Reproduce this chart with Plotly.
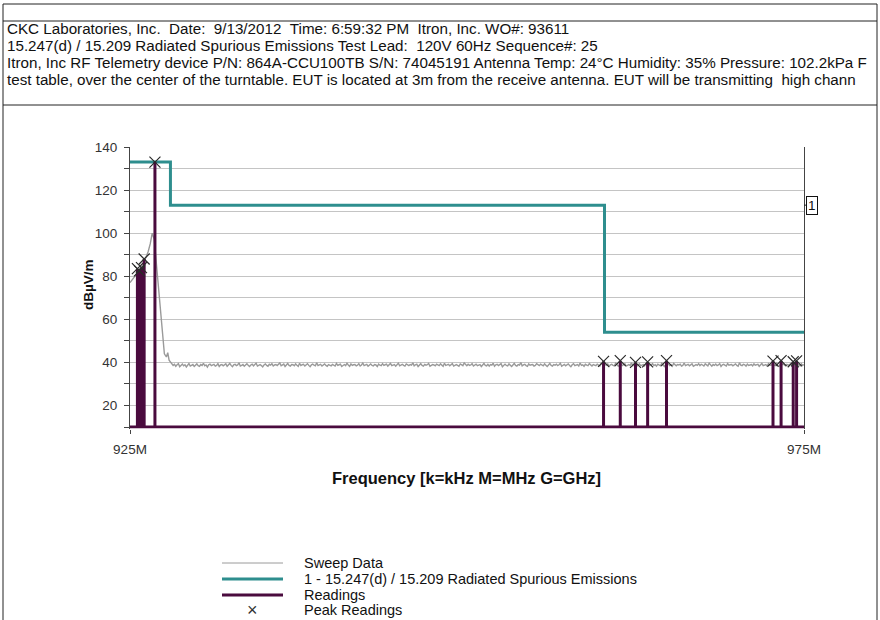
import numpy as np
import plotly.graph_objects as go

W, H = 880, 620

# ---------------- data ----------------
# Sweep data: leading part (explicit points) then noise floor
sweep_head_freq = [925.0, 925.15, 925.3, 925.5, 925.7, 925.85, 926.0, 926.2, 926.35, 926.5, 926.65, 926.8,
                   927.0, 927.2, 927.4, 927.55, 927.7, 927.8, 927.9, 928.05]
sweep_head_val = [77.0, 78.5, 79.5, 81.0, 83.0, 84.5, 86.5, 89.0, 91.5, 95.0, 100.0, 97.0,
                  82.0, 66.0, 52.0, 44.0, 42.5, 44.5, 41.0, 40.0]
sweep_floor_start, sweep_floor_stop = 928.2, 975.0
sweep_floor_val = [
    38.6,39.1,38.2,38.9,39.4,38.0,38.7,39.2,38.4,38.9,37.9,38.8,39.5,38.3,38.7,39.0,38.1,38.9,39.3,38.5,
    38.2,39.0,38.6,39.6,38.4,38.8,37.8,38.9,39.2,38.5,38.7,39.1,38.3,38.6,39.4,38.1,38.8,39.0,38.4,38.9,
    39.3,38.2,38.7,39.5,38.6,38.0,38.9,39.1,38.5,38.8,39.8,38.3,38.6,39.0,38.2,38.9,39.4,38.7,38.1,38.8,
    39.2,38.4,38.9,39.6,38.3,38.7,39.0,38.5,37.9,38.8,39.3,38.6,38.2,39.1,38.7,39.4,38.3,38.8,39.0,38.5,
    38.9,39.7,38.4,38.7,39.2,38.1,38.8,39.5,38.6,38.3,39.0,38.9,38.4,39.3,38.7,38.2,39.6,38.5,38.9,39.1,
    38.3,38.8,39.4,38.6,38.0,38.9,39.2,38.7,38.4,39.8,38.5,38.8,39.1,38.3,38.9,39.3,38.6,38.2,39.0,38.7,
    38.4,39.1,38.8,38.3,39.5,38.6,38.9,39.2,38.1,38.7,39.0,38.5,39.6,38.8,38.2,39.3,38.6,38.9,39.0,38.4,
    38.7,39.4,38.3,38.8,39.7,38.5,38.9,39.1,38.2,38.7,39.3,38.6,38.4,39.0,38.8,38.1,39.2,38.7,38.5,39.4,
    38.6,38.9,39.2,38.3,38.7,39.5,38.5,38.8,39.0,38.2,38.9,39.6,38.4,38.7,39.1,38.6,38.3,39.3,38.8,38.5,
    39.0,38.7,39.8,38.4,38.9,39.2,38.1,38.8,39.4,38.6,38.3,39.1,38.7,38.9,39.5,38.2,38.6,39.0,38.8,38.4,
    39.2,38.7,38.5,39.3,38.9,38.2,39.6,38.6,38.8,39.1,38.4,38.9,39.4,38.3,38.7,39.0,38.6,38.2,39.3,38.8,
    38.5,39.7,38.9,38.4,39.1,38.6,38.8,39.4,38.3,38.7,39.2,38.5,38.9,39.0,38.1,38.8,39.5,38.6,38.4,39.1,
    38.3,39.0,38.7,39.6,38.2,38.9,39.1,38.5,38.8,39.4,38.0,38.7,39.2,38.6,38.4,39.3,38.9,38.1,38.8,39.5,
    38.6,38.3,39.0,38.7,39.9,38.4,38.8,39.1,38.5,38.2,39.3,38.7,38.9,39.0,38.3,38.6,39.4,38.8,38.5,39.2,
    38.7,38.4,39.3,38.9,38.1,38.8,39.5,38.6,38.3,39.0,38.7,39.2,38.5,38.9,39.6,38.2,38.8,39.1,38.4,38.7,
    39.3,38.6,38.0,38.9,39.4,38.5,38.8,39.0,38.3,39.7,38.6,38.9,38.2,39.1,38.7,38.5,39.4,38.8,38.3,39.0,
    38.9,38.5,39.2,38.6,38.3,39.5,38.8,38.4,39.0,38.7,39.3,38.1,38.9,39.1,38.6,38.4,39.6,38.7,38.2,38.9,
    39.2,38.5,38.8,39.4,38.3,38.7,39.0,38.6,39.8,38.4,38.9,39.1,38.2,38.8,39.3,38.5,38.7,39.0,38.4,39.5,
    38.6,38.2,39.1,38.8,39.4,38.5,38.9,38.3,39.2,38.7,38.4,39.6,38.8,38.1,39.0,38.6,39.3,38.5,38.9,38.2,
    39.5,38.7,38.4,39.0,38.8,39.2,38.3,38.6,39.7,38.5,38.9,39.1,38.4,38.7,39.3,38.2,38.8,39.0,38.6,39.4,
    38.5,39.1,38.8,38.3,39.3,38.7,38.4,39.6,38.9,38.2,39.0,38.6,39.2,38.5,38.8,39.4,38.1,38.9,39.1,38.6,
    38.3,39.5,38.7,38.9,39.0,38.4,38.8,39.3,38.6,38.2,39.8,38.7,38.5,39.1,38.9,38.3,39.2,38.6,38.8,39.0,
    38.4,39.3,38.7,38.9,39.1,38.2,38.8,39.5,38.5,38.6,39.0,38.3,39.4,38.8,38.7,39.2,38.4,38.9,39.6,38.5,
    38.1,39.0,38.8,39.3,38.6,38.4,39.1,38.7,38.9,39.5,38.3,38.6,39.2,38.8,38.5,39.0,38.4,39.3,38.7,38.9,
]

# Limit line 1 (step)
limit_freq = [925.0, 928.0, 960.2, 975.0]
limit_val = [133.0, 113.0, 54.0, 54.0]

# Readings (MHz, dBuV/m)
reading_freq = [925.55, 925.7, 925.85, 926.05, 926.85,
                960.13, 961.37, 962.5, 963.4, 964.8,
                972.7, 973.3, 974.2, 974.45]
reading_val = [83.5, 82.5, 84.0, 88.0, 133.0,
               40.5, 40.8, 40.0, 40.2, 40.8,
               40.6, 40.8, 40.3, 40.7]
reading_base = 10.0

x_ticks = [925, 975]
x_tick_text = ["925M", "975M"]
y_ticks = [20, 40, 60, 80, 100, 120, 140]

header_lines = [
    "CKC Laboratories, Inc.\u00a0\u00a0Date:\u00a0\u00a09/13/2012\u00a0\u00a0Time: 6:59:32 PM\u00a0\u00a0Itron, Inc. WO#: 93611",
    "15.247(d) / 15.209 Radiated Spurious Emissions Test Lead:\u00a0\u00a0120V 60Hz Sequence#: 25",
    "Itron, Inc RF Telemetry device P/N: 864A-CCU100TB S/N: 74045191 Antenna Temp: 24\u00b0C Humidity: 35% Pressure: 102.2kPa F",
    "test table, over the center of the turntable. EUT is located at 3m from the receive antenna. EUT will be transmitting\u00a0\u00a0high chann",
]
legend_names = ["Sweep Data", "1 - 15.247(d) / 15.209 Radiated Spurious Emissions", "Readings", "Peak Readings"]
x_title = "Frequency [k=kHz M=MHz G=GHz]"
y_title = "dB\u00b5V/m"
limit_label = "1"

# ---------------- styles ----------------
C_SWEEP = "#9A9A9A"
C_LIMIT = "#2E8E8E"
C_READ = "#4A0B3E"
C_PEAK = "#2A2A2A"
FONT = "Liberation Sans, Arial, sans-serif"


def px(x):
    return x / W


def py(y):
    return 1 - y / H


sweep_x = list(sweep_head_freq) + list(np.linspace(sweep_floor_start, sweep_floor_stop, len(sweep_floor_val)))
sweep_y = list(sweep_head_val) + list(sweep_floor_val)

rx, ry = [], []
for f, v in zip(reading_freq, reading_val):
    rx += [f, f, f]
    ry += [reading_base, v, reading_base]
rx = [925.0] + rx + [975.0]
ry = [reading_base] + ry + [reading_base]

fig = go.Figure()
fig.add_trace(go.Scatter(x=sweep_x, y=sweep_y, mode="lines", name=legend_names[0],
                         line=dict(color=C_SWEEP, width=1.4), showlegend=False, hoverinfo="skip"))
fig.add_trace(go.Scatter(x=limit_freq, y=limit_val, mode="lines", name=legend_names[1],
                         line=dict(color=C_LIMIT, width=3, shape="hv"), showlegend=False))
fig.add_trace(go.Scatter(x=rx, y=ry, mode="lines", name=legend_names[2],
                         line=dict(color=C_READ, width=3), showlegend=False))
fig.add_trace(go.Scatter(x=reading_freq, y=reading_val, mode="markers", name=legend_names[3],
                         marker=dict(symbol="x-thin-open", size=11, color=C_PEAK,
                                     line=dict(color=C_PEAK, width=1.2)),
                         showlegend=False, cliponaxis=False))

# plot area geometry (pixels)
x_left, x_right = 130, 804
y_top_px, y_bot_px = 147, 427  # 140 -> 147, 10 -> 427
ppu = (y_bot_px - y_top_px) / (140 - 10)
y_min = 9.3
dom_bottom = (H - (y_bot_px + (10 - y_min) * ppu)) / H
dom_top = (H - y_top_px) / H

fig.update_layout(
    width=W, height=H,
    margin=dict(l=0, r=0, t=0, b=0, pad=0, autoexpand=False),
    paper_bgcolor="white", plot_bgcolor="white",
    font=dict(family=FONT, size=12, color="#222"),
    showlegend=False,
    xaxis=dict(domain=[px(x_left), px(x_right)], range=[925, 975], automargin=False,
               tickvals=x_ticks, ticktext=x_tick_text, ticks="outside", ticklen=4,
               tickcolor="#444", showgrid=False, zeroline=False, showline=False,
               tickfont=dict(size=13.5, color="#333"), ticklabelstandoff=4),
    yaxis=dict(domain=[dom_bottom, dom_top], range=[y_min, 140], automargin=False,
               tickvals=y_ticks, ticks="outside", ticklen=5, tickcolor="#444",
               showgrid=True, gridcolor="#C4C4C4", gridwidth=1, zeroline=False,
               showline=True, linecolor="#444", linewidth=1, mirror=True,
               minor=dict(tickvals=[10, 30, 50, 70, 90, 110, 130], ticks="outside", ticklen=5,
                          tickcolor="#444", showgrid=True, gridcolor="#C4C4C4"),
               tickfont=dict(size=13.5, color="#333"), ticklabelstandoff=4),
)

shapes = []
line_k = dict(color="#222", width=1)
# frame
shapes.append(dict(type="line", xref="paper", yref="paper", x0=px(3), x1=px(877), y0=py(4), y1=py(4), line=line_k))
shapes.append(dict(type="line", xref="paper", yref="paper", x0=px(3), x1=px(877), y0=py(21), y1=py(21), line=line_k))
shapes.append(dict(type="line", xref="paper", yref="paper", x0=px(3), x1=px(877), y0=py(105), y1=py(105), line=line_k))
shapes.append(dict(type="line", xref="paper", yref="paper", x0=px(3), x1=px(3), y0=py(4), y1=0, line=line_k))
shapes.append(dict(type="line", xref="paper", yref="paper", x0=px(877), x1=px(877), y0=py(4), y1=0, line=line_k))
# label connector
shapes.append(dict(type="line", xref="paper", yref="y", x0=px(804), x1=px(807), y0=113, y1=113,
                   line=dict(color="#222", width=1)))
# legend samples
leg_y = [563, 579, 595, 610]
shapes.append(dict(type="line", xref="paper", yref="paper", x0=px(222), x1=px(283), y0=py(leg_y[0]), y1=py(leg_y[0]),
                   line=dict(color=C_SWEEP, width=1)))
shapes.append(dict(type="line", xref="paper", yref="paper", x0=px(222), x1=px(283), y0=py(leg_y[1]), y1=py(leg_y[1]),
                   line=dict(color=C_LIMIT, width=3)))
shapes.append(dict(type="line", xref="paper", yref="paper", x0=px(222), x1=px(283), y0=py(leg_y[2]), y1=py(leg_y[2]),
                   line=dict(color=C_READ, width=3)))

annotations = []
for i, t in enumerate(header_lines):
    annotations.append(dict(xref="paper", yref="paper", x=px(5), y=py(28.5 + 17 * i), text=t, showarrow=False,
                            xanchor="left", yanchor="middle", font=dict(size=15.2, color="#111", family=FONT)))
for i, t in enumerate(legend_names):
    annotations.append(dict(xref="paper", yref="paper", x=px(302), y=py(leg_y[i]), text=t, showarrow=False,
                            xanchor="left", yanchor="middle", font=dict(size=14.5, color="#111", family=FONT)))
annotations.append(dict(xref="paper", yref="paper", x=px(253), y=py(leg_y[3]), text="\u00d7", showarrow=False,
                        xanchor="center", yanchor="middle", font=dict(size=18, color="#333", family=FONT)))
annotations.append(dict(xref="paper", yref="y", x=px(806), y=113, text=limit_label, showarrow=False,
                        xanchor="left", yanchor="middle", bordercolor="#111", borderwidth=1, borderpad=1,
                        bgcolor="white", font=dict(size=13.5, color="#111", family=FONT)))
# axis titles
annotations.append(dict(xref="paper", yref="paper", x=px(467), y=py(478), text="<b>" + x_title + "</b>",
                        showarrow=False, xanchor="center", yanchor="middle",
                        font=dict(size=16.5, color="#111", family=FONT)))
annotations.append(dict(xref="paper", yref="paper", x=px(88), y=py(285), text="<b>" + y_title + "</b>",
                        showarrow=False, xanchor="center", yanchor="middle", textangle=-90,
                        font=dict(size=13.5, color="#111", family=FONT)))

fig.update_layout(shapes=shapes, annotations=annotations)
fig.write_html("out.html", config={"displayModeBar": False},
               post_script="document.body.style.margin='0px';document.body.style.overflow='hidden';")
